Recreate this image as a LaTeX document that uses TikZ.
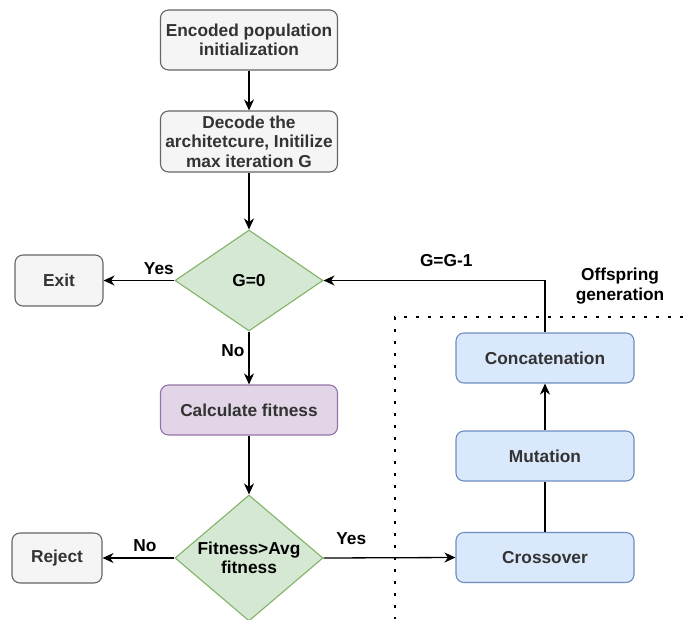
\documentclass[tikz,border=0pt]{standalone}
\usepackage{fontspec}
\setmainfont{Liberation Sans}
\usetikzlibrary{shapes.geometric,arrows.meta}
\definecolor{grayfill}{HTML}{F5F5F5}
\definecolor{grayline}{HTML}{666666}
\definecolor{greenfill}{HTML}{D5E8D4}
\definecolor{greenline}{HTML}{82B366}
\definecolor{purplefill}{HTML}{E1D5E7}
\definecolor{purpleline}{HTML}{9673A6}
\definecolor{bluefill}{HTML}{DAE8FC}
\definecolor{blueline}{HTML}{6C8EBF}
\definecolor{txt}{HTML}{333333}
\begin{document}
\begin{tikzpicture}[x=1pt,y=-1pt,
  every node/.style={font=\fontsize{17.3}{19.5}\selectfont\bfseries},
  box/.style={rectangle, rounded corners=8pt, draw, line width=1.1pt, inner sep=0pt, align=center, text=txt},
  graybox/.style={box, fill=grayfill, draw=grayline},
  purplebox/.style={box, fill=purplefill, draw=purpleline},
  bluebox/.style={box, fill=bluefill, draw=blueline, minimum width=178pt, minimum height=50pt},
  decision/.style={diamond, draw=greenline, fill=greenfill, line width=1.1pt, inner sep=0pt},
  lbl/.style={text=black, inner sep=0pt},
  arr/.style={line width=1.3pt, -{Stealth[length=11pt,width=10pt,inset=3.5pt]}},
  plain/.style={line width=1.3pt},
  dotline/.style={line width=2.8pt, dash pattern=on 2.8pt off 9.2pt}
]
\useasboundingbox (0,0) rectangle (683,619);
\clip (0,0) rectangle (683,619);
\fill[white] (0,0) rectangle (683,619);

% dotted region
\coordinate (dc) at (395,317);
\coordinate (dr) at (683,317);
\coordinate (db) at (395,619);
\draw[dotline] (dr) -- (dc) -- (db);

% left column
\node[graybox, minimum width=177pt, minimum height=60pt] (b1) at (249,40) {Encoded population\\initialization};
\node[graybox, minimum width=177pt, minimum height=61pt] (b2) at (249,141.5) {Decode the\\architetcure, Initilize\\max iteration G};
\node[decision, minimum width=148pt, minimum height=101pt] (d1) at (249,280.5) {};
\node[lbl, text=black] (d1t) at (d1.center) {G=0};
\node[graybox, minimum width=88pt, minimum height=51pt] (exit) at (59,280.5) {Exit};
\node[purplebox, minimum width=177pt, minimum height=50pt] (calc) at (249,410) {Calculate fitness};
\node[decision, minimum width=148pt, minimum height=126pt] (d2) at (249,558) {};
\node[lbl, align=center, text=black] (d2t) at (d2.center) {Fitness>Avg\\fitness};
\node[graybox, minimum width=90pt, minimum height=50pt] (reject) at (57,558) {Reject};

% right column
\node[bluebox] (cross) at (545,557.5) {Crossover};
\node[bluebox] (mut) at (545,456) {Mutation};
\node[bluebox] (concat) at (545,358) {Concatenation};
\node[lbl, align=center, text=black] (off) at (620,286) {Offspring\\generation};

% connectors
\draw[arr] (b1) -- (b2);
\draw[arr] (b2) -- (d1.north);
\draw[arr] (d1.west) -- (exit.east) node[lbl, pos=0.22, above=5pt] (yes1) {Yes};
\draw[arr] (d1.south) -- (calc.north) node[lbl, pos=0.37, left=4pt] (no1) {No};
\draw[arr] (calc.south) -- (d2.north);
\draw[arr] (d2.west) -- (reject.east) node[lbl, pos=0.41, above=6pt] (no2) {No};
\draw[arr] (d2.east) -- (cross.west) node[lbl, pos=0.21, above=13pt] (yes2) {Yes};
\draw[plain] (cross.north) -- (mut.south);
\draw[arr] (mut.north) -- (concat.south);
\draw[arr] (concat.north) |- (d1.east) node[lbl, pos=0.723, above=13pt] (gg) {G=G-1};
\end{tikzpicture}
\end{document}
